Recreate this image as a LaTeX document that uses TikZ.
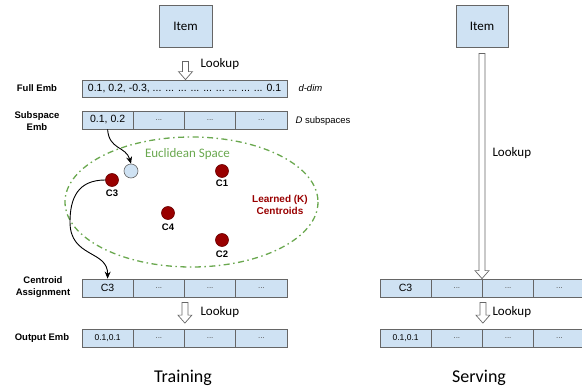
\documentclass[tikz,border=0pt]{standalone}
\usepackage{fontspec}
\setmainfont{Liberation Sans}
\newfontfamily\calib{Carlito}
\usepackage{xcolor}
\usepackage{tikz}
\usetikzlibrary{arrows.meta, calc}
\definecolor{cellblue}{HTML}{CFE2F3}
\definecolor{edgegray}{HTML}{666666}
\definecolor{spacegreen}{HTML}{6AA84F}
\definecolor{centred}{HTML}{990000}
\tikzstyle{cell} = [rectangle,
minimum width=51.25pt,
minimum height=18pt,
inner sep=0pt,
fill=cellblue,
draw=edgegray, line width=0.8pt,
font=\fontsize{10.5}{12}\selectfont]
\tikzstyle{dots} = [cell, font=\fontsize{8}{9}\selectfont, text=black!70]
\tikzstyle{itembox} = [rectangle, minimum width=53pt, minimum height=42pt,
fill=cellblue, draw=edgegray, line width=0.8pt,
font=\calib\fontsize{13}{15}\selectfont]
\tikzstyle{rowlabel} = [align=center, font=\bfseries\fontsize{9.5}{12.5}\selectfont]
\tikzstyle{lookup} = [anchor=west, font=\calib\fontsize{13}{15}\selectfont]
\tikzstyle{centroid} = [circle, minimum size=13pt, inner sep=0pt,
fill=centred, draw=centred!70!black, line width=0.6pt]
\tikzstyle{clabel} = [font=\bfseries\fontsize{9.5}{10}\selectfont]
\tikzstyle{arrow} = [line width=0.9pt,-{Stealth[length=7pt,width=6pt]}]
\tikzstyle{hollow} = [draw=edgegray, fill=white, line width=0.7pt,
to path={let \p1=(\tikztostart), \p2=(\tikztotarget) in
(\x1-3pt,\y1) -- (\x1+3pt,\y1) -- (\x1+3pt,\y2+8pt) -- (\x1+7pt,\y2+8pt)
-- (\x1,\y2) -- (\x1-7pt,\y2+8pt) -- (\x1-3pt,\y2+8pt) -- cycle}]

\begin{document}
\begin{tikzpicture}[x=1pt, y=-1pt]
\clip (0,0) rectangle (582,391);

% Partie entrainement
\node[itembox] (item) at (185.5,26) {Item};
\node[cell, minimum width=205pt, minimum height=17pt] (fullemb) at (184.5,88.5) {0.1, 0.2, -0.3, ... ... ... ... ... ... ... ... ... 0.1};
\draw[hollow] ([yshift=-14pt]item.south) to (fullemb.north);
\node[lookup] (lookup1) at (197,64) {Lookup};

% Etiquettes des lignes
\node[rowlabel] (lblfull) at (37,88) {Full Emb};
\node[rowlabel] (lblsub) at (37,121) {Subspace\\Emb};
\node[rowlabel] (lblca) at (43,287) {Centroid\\Assignment};
\node[rowlabel] (lblout) at (42,338) {Output Emb};
\node[anchor=west, font=\itshape\fontsize{9.5}{11}\selectfont] (ddim) at (295,88) {d-dim};
\node[anchor=west, font=\fontsize{9.5}{11}\selectfont] (dsub) at (292,121) {\textit{D} subspaces};

% Sous-espaces
\node[cell] (sub1) at (107.6,120) {0.1, 0.2};
\foreach \i in {2,3,4} \node[dots] (sub\i) at (56.375+51.25*\i,120) {...};

% Espace euclidien
\draw[spacegreen, line width=1.3pt, dash pattern=on 6pt off 3.5pt on 1.5pt off 3.5pt] (191.5,202) ellipse [x radius=126.5, y radius=65];
\node[text=spacegreen, font=\calib\fontsize{13}{15}\selectfont] (eucl) at (187.5,154) {Euclidean Space};
\node[circle, minimum size=14pt, inner sep=0pt, fill=cellblue, draw=edgegray, line width=0.6pt] (query) at (131,171) {};
\node[centroid] (c1) at (222,171) {};
\node[clabel] (lc1) at (222,183) {C1};
\node[centroid] (c2) at (222,240) {};
\node[clabel] (lc2) at (222,254) {C2};
\node[centroid] (c3) at (112,180) {};
\node[clabel] (lc3) at (112,193) {C3};
\node[centroid] (c4) at (168,213) {};
\node[clabel] (lc4) at (168,227) {C4};
\node[text=centred, align=center, font=\bfseries\fontsize{10}{12}\selectfont] (learned) at (280,205) {Learned (K)\\Centroids};

% Affectation et sortie
\node[cell] (ca1) at (107.6,288) {C3};
\foreach \i in {2,3,4} \node[dots] (ca\i) at (56.375+51.25*\i,288) {...};
\node[cell, font=\fontsize{8.5}{10}\selectfont] (out1) at (107.6,338.5) {0.1,0.1};
\foreach \i in {2,3,4} \node[dots] (out\i) at (56.375+51.25*\i,338.5) {...};
\draw[hollow] ([yshift=-5pt]ca2.south east) to ([yshift=6pt]out3.north west);
\node[lookup] (lookup2) at (197,312) {Lookup};

% Fleches
\draw[arrow] (sub1.south) .. controls (109,150) and (126,146) .. (query.north);
\draw[arrow] (c3.west) .. controls (78,180) and (70,198) .. (70,222) .. controls (70,258) and (108,250) .. (ca1.north);

% Partie service
\node[itembox, minimum width=52pt] (item2) at (482,26) {Item};
\node[cell] (rca1) at (405.6,288) {C3};
\foreach \i in {2,3,4} \node[dots] (rca\i) at (354.375+51.25*\i,288) {...};
\node[cell, font=\fontsize{8.5}{10}\selectfont] (rout1) at (405.6,338.5) {0.1,0.1};
\foreach \i in {2,3,4} \node[dots] (rout\i) at (354.375+51.25*\i,338.5) {...};
\draw[hollow] ([yshift=-6pt]item2.south) to (rca3.north west);
\node[lookup] (lookup3) at (489,153) {Lookup};
\draw[hollow] ([yshift=-5pt]rca2.south east) to ([yshift=6pt]rout3.north west);
\node[lookup] (lookup4) at (489,312) {Lookup};

% Titres
\node[font=\calib\fontsize{18}{20}\selectfont] (training) at (183,378) {Training};
\node[font=\calib\fontsize{18}{20}\selectfont] (serving) at (479,378) {Serving};

\end{tikzpicture}
\end{document}
